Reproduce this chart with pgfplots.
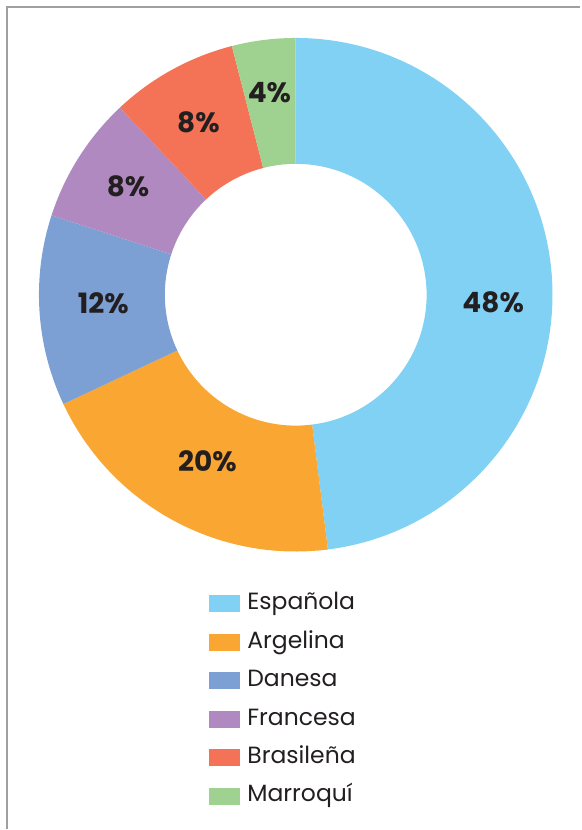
\documentclass[border=0pt]{standalone}
\usepackage{pgfplots}
\usepackage{pgfplotstable}
\usepackage{fontspec}
\setmainfont{Poppins}
\pgfplotsset{compat=1.18}
\definecolor{cEsp}{HTML}{81D1F4}
\definecolor{cArg}{HTML}{F9A632}
\definecolor{cDan}{HTML}{7C9FD4}
\definecolor{cFra}{HTML}{B189C1}
\definecolor{cBra}{HTML}{F47356}
\definecolor{cMar}{HTML}{9FD191}
\definecolor{txt}{HTML}{231F20}
\definecolor{frame}{HTML}{A0A0A0}
\pgfplotstableread[col sep=comma]{
name,value,color,ldx,ldy
Española,48,cEsp,4,-20
Argelina,20,cArg,5,3
Danesa,12,cDan,1,4
Francesa,8,cFra,-4,5
Brasileña,8,cBra,-4,3
Marroquí,4,cMar,-2,10
}\datatable
\begin{document}
\begin{tikzpicture}
\begin{axis}[
  x=1pt, y=1pt, disabledatascaling, scale only axis,
  xmin=-296, xmax=285, ymin=-535, ymax=295,
  hide axis, clip=false,
  legend style={draw=none, fill=none, at={(axis cs:-87,-298)}, anchor=north west,
    font=\fontsize{23.5}{23.5}\selectfont\color{txt}, row sep=16.5pt, column sep=8pt,
    inner sep=0pt, nodes={inner sep=0pt, text height=17pt, text depth=5pt}},
  legend cell align=left,
]
\pgfplotsextra{
  \path (axis cs:-296,-535) rectangle (axis cs:285,295);
  \draw[frame, line width=1.5pt] (axis cs:-289,-535) -- (axis cs:-289,288) -- (axis cs:285,288);
  \gdef\cumul{0}
  \foreach \i in {0,...,5}{
    \pgfplotstablegetelem{\i}{value}\of{\datatable}\let\v\pgfplotsretval
    \pgfplotstablegetelem{\i}{color}\of{\datatable}\let\c\pgfplotsretval
    \pgfplotstablegetelem{\i}{ldx}\of{\datatable}\let\lx\pgfplotsretval
    \pgfplotstablegetelem{\i}{ldy}\of{\datatable}\let\ly\pgfplotsretval
    \pgfmathsetmacro{\a}{90-3.6*\cumul}
    \pgfmathsetmacro{\b}{90-3.6*(\cumul+\v)}
    \pgfmathsetmacro{\m}{(\a+\b)/2}
    \fill[\c] (axis cs:{257*cos(\a)},{257*sin(\a)}) arc[start angle=\a, end angle=\b, radius=257pt]
      -- (axis cs:{131*cos(\b)},{131*sin(\b)}) arc[start angle=\b, end angle=\a, radius=131pt] -- cycle;
    \node[font=\fontsize{28}{28}\selectfont\bfseries, text=txt] at (axis cs:{194*cos(\m)+\lx},{194*sin(\m)+\ly}) {\v\%};
    \pgfmathsetmacro{\newc}{\cumul+\v}\xdef\cumul{\newc}
  }
}
\addlegendimage{legend image code/.code={\fill[cEsp] (0pt,-8pt) rectangle (30pt,8pt);}}
\addlegendentry{Española}
\addlegendimage{legend image code/.code={\fill[cArg] (0pt,-8pt) rectangle (30pt,8pt);}}
\addlegendentry{Argelina}
\addlegendimage{legend image code/.code={\fill[cDan] (0pt,-8pt) rectangle (30pt,8pt);}}
\addlegendentry{Danesa}
\addlegendimage{legend image code/.code={\fill[cFra] (0pt,-8pt) rectangle (30pt,8pt);}}
\addlegendentry{Francesa}
\addlegendimage{legend image code/.code={\fill[cBra] (0pt,-8pt) rectangle (30pt,8pt);}}
\addlegendentry{Brasileña}
\addlegendimage{legend image code/.code={\fill[cMar] (0pt,-8pt) rectangle (30pt,8pt);}}
\addlegendentry{Marroquí}
\end{axis}
\end{tikzpicture}
\end{document}
